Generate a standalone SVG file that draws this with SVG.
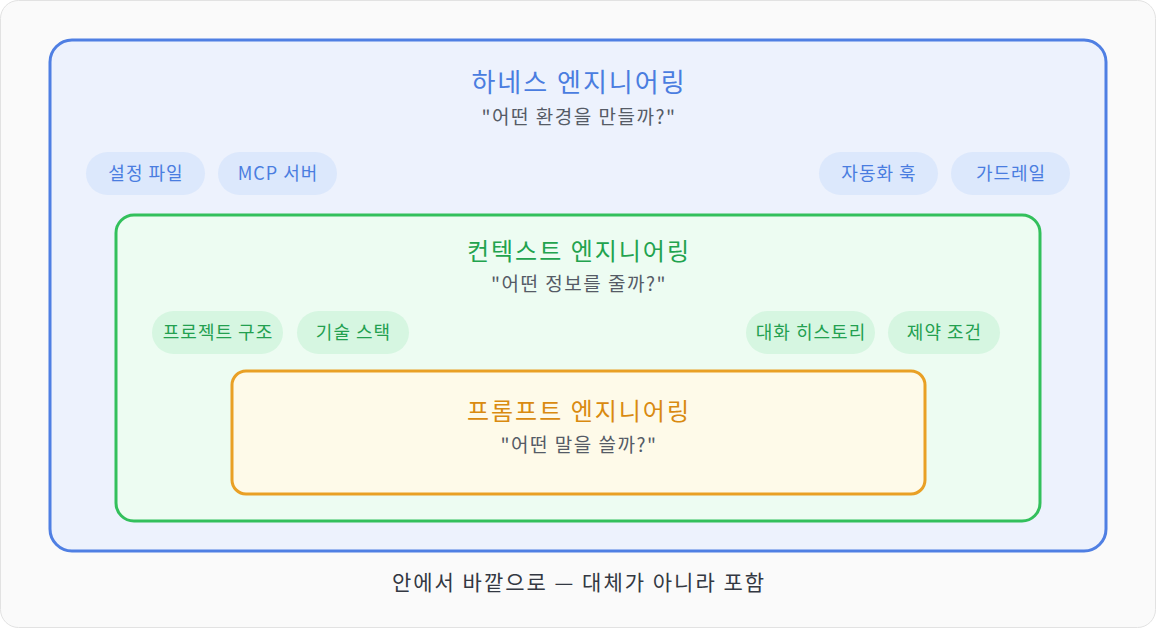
<svg xmlns="http://www.w3.org/2000/svg" width="1156" height="628" viewBox="0 0 1156 628">
<style>
text{font-family:"Noto Sans CJK KR","Noto Sans",sans-serif;text-anchor:middle}
.t1{font-size:26px;fill:#4a7de0;letter-spacing:2px}
.t2{font-size:24px;fill:#22a34e;letter-spacing:2px}
.t3{font-size:24px;fill:#d98a10;letter-spacing:2px}
.sub{font-size:19px;fill:#555b66;letter-spacing:1.5px}
.pb{fill:#dce8fc}
.pg{fill:#d6f6e1}
.lb{font-size:18px;fill:#4a7de0;letter-spacing:1px}
.lg{font-size:18px;fill:#23a050;letter-spacing:1px}
</style>
<rect x="0.5" y="0.5" width="1155" height="627" rx="18" fill="#fafafa" stroke="#e2e2e2"/>
<g id="harness">
<rect x="50" y="40" width="1056" height="511" rx="22" fill="#edf2fd" stroke="#4f7fe3" stroke-width="3"/>
<text class="t1" x="579" y="92">하네스 엔지니어링</text>
<text class="sub" x="579" y="124">"어떤 환경을 만들까?"</text>
</g>
<g id="pill-config"><rect class="pb" x="86" y="152" width="119" height="43" rx="21.5"/><text class="lb" x="146" y="180">설정 파일</text></g>
<g id="pill-mcp"><rect class="pb" x="218" y="152" width="119" height="43" rx="21.5"/><text class="lb" x="278" y="180">MCP 서버</text></g>
<g id="pill-hook"><rect class="pb" x="819" y="152" width="119" height="43" rx="21.5"/><text class="lb" x="879" y="180">자동화 훅</text></g>
<g id="pill-guard"><rect class="pb" x="951" y="152" width="119" height="43" rx="21.5"/><text class="lb" x="1011" y="180">가드레일</text></g>
<g id="context">
<rect x="116" y="215" width="924" height="306" rx="18" fill="#edfcf2" stroke="#33c05c" stroke-width="3"/>
<text class="t2" x="579" y="260">컨텍스트 엔지니어링</text>
<text class="sub" x="579" y="291">"어떤 정보를 줄까?"</text>
</g>
<g id="pill-project"><rect class="pg" x="152" y="311" width="131" height="43" rx="21.5"/><text class="lg" x="218" y="339">프로젝트 구조</text></g>
<g id="pill-stack"><rect class="pg" x="297" y="311" width="112" height="43" rx="21.5"/><text class="lg" x="353.5" y="339">기술 스택</text></g>
<g id="pill-history"><rect class="pg" x="746" y="311" width="129" height="43" rx="21.5"/><text class="lg" x="811" y="339">대화 히스토리</text></g>
<g id="pill-constraint"><rect class="pg" x="888" y="311" width="112" height="43" rx="21.5"/><text class="lg" x="944.5" y="339">제약 조건</text></g>
<g id="prompt">
<rect x="232" y="371" width="693" height="123" rx="14" fill="#fefae9" stroke="#e9a025" stroke-width="3"/>
<text class="t3" x="579" y="420">프롬프트 엔지니어링</text>
<text class="sub" x="579" y="452">"어떤 말을 쓸까?"</text>
</g>
<g id="connectors"/>
<text x="579" y="590" style="font-size:21px;fill:#333842;letter-spacing:2px">안에서 바깥으로 — 대체가 아니라 포함</text>
</svg>
